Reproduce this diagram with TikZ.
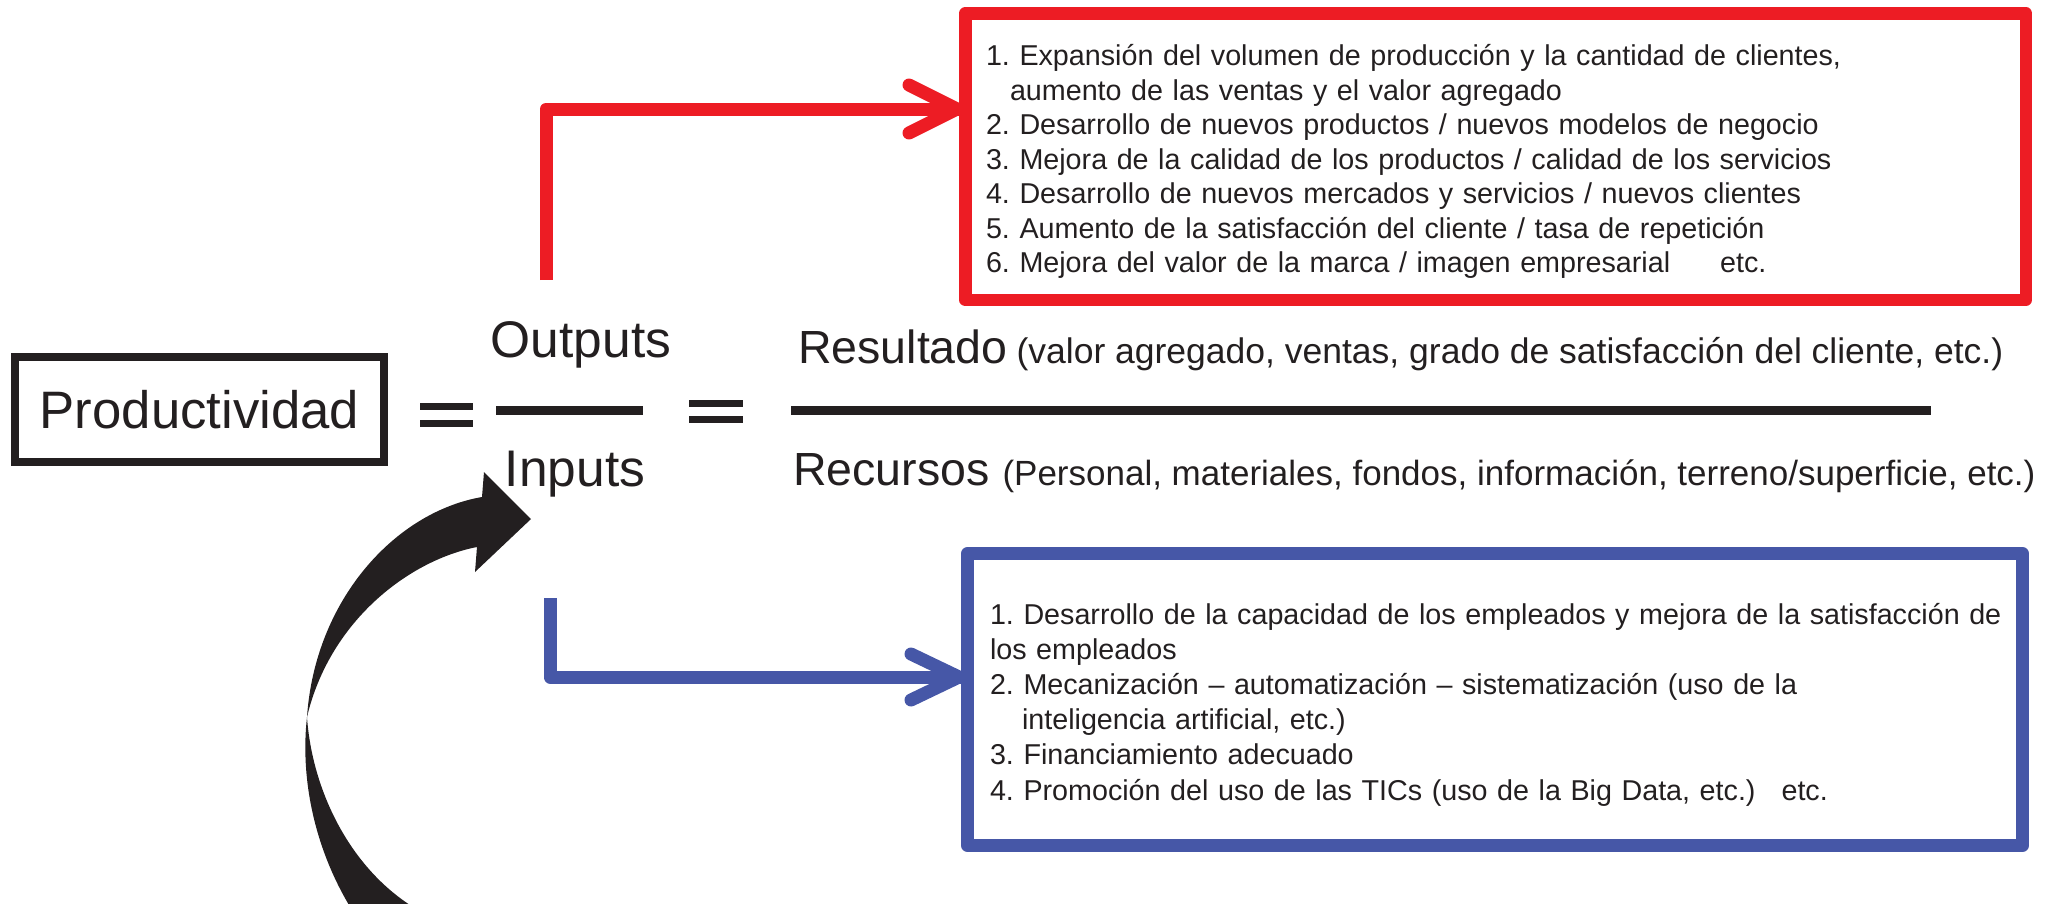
\documentclass[tikz,border=0pt]{standalone}
\usepackage{fontspec}
\setmainfont{Liberation Sans}
\frenchspacing
\definecolor{myred}{HTML}{ED1C24}
\definecolor{myblue}{HTML}{4657A7}
\definecolor{ink}{HTML}{231F20}
\newcommand\fsBig{\fontsize{51.5}{60}\selectfont}
\newcommand\fsProd{\fontsize{52.7}{60}\selectfont}
\newcommand\fsMid{\fontsize{46.5}{55}\selectfont}
\newcommand\fsPar{\fontsize{35.5}{42}\selectfont}
\newcommand\fsParB{\fontsize{35}{42}\selectfont}
\newcommand\fsBoxR{\fontsize{28.7}{34.5}\selectfont}
\newcommand\fsBoxB{\fontsize{28.7}{35.2}\selectfont}
\tikzset{
  rbox/.style={draw=myred, line width=12.5pt, line join=round, align=left, font=\fsBoxR, text=ink},
  bbox/.style={draw=myblue, line width=13pt, line join=round, align=left, font=\fsBoxB, text=ink},
  rline/.style={draw=myred, line width=13pt, line join=round, line cap=round},
  bline/.style={draw=myblue, line width=13pt, line join=round, line cap=round},
  bar/.style={draw=ink, line width=9pt},
  eqbar/.style={fill=ink},
}
\begin{document}
\begin{tikzpicture}[x=1pt,y=-1pt]
\useasboundingbox (0,0) rectangle (2056,903);

% result box (red)
\node[rbox, minimum width=1060.5pt, minimum height=286.5pt, text width=1019pt, inner xsep=20.75pt, inner ysep=0pt] (redbox) at (1495.5,156.5) {%
\rule{0pt}{31pt}1. Expansión del volumen de producción y la cantidad de clientes,\\
\hspace*{24pt}aumento de las ventas y el valor agregado\\
2. Desarrollo de nuevos productos / nuevos modelos de negocio\\
3. Mejora de la calidad de los productos / calidad de los servicios\\
4. Desarrollo de nuevos mercados y servicios / nuevos clientes\\
5. Aumento de la satisfacción del cliente / tasa de repetición\\
6. Mejora del valor de la marca / imagen empresarial\hspace{50pt}etc.};

% resources box (blue)
\node[bbox, minimum width=1055pt, minimum height=292pt, text width=1010pt, inner xsep=22.5pt, inner ysep=0pt] (bluebox) at (1495,699.5) {%
\rule{0pt}{31pt}\mbox{1. Desarrollo de la capacidad de los empleados y mejora de la satisfacción de}\\
los empleados\\
2. Mecanización – automatización – sistematización (uso de la\\
\hspace*{32pt}inteligencia artificial, etc.)\\
3. Financiamiento adecuado\\
4. Promoción del uso de las TICs (uso de la Big Data, etc.)\hspace{26pt}etc.};

% Productividad box
\node[draw=ink, line width=8pt, minimum width=369pt, minimum height=105pt, font=\fsProd, text=ink, inner sep=0pt] (prod) at (199.5,409.5) {Productividad};

% equals signs
\fill[eqbar] (420,402.5) rectangle (473,409.5);
\fill[eqbar] (420,419.5) rectangle (473,426.5);
\fill[eqbar] (689,400) rectangle (743,407);
\fill[eqbar] (689,416) rectangle (743,423);

% fraction bars
\draw[bar] (496,410) -- (643,410);
\draw[bar] (791,410) -- (1931,410);

% fraction texts
\node[font=\fsBig, text=ink, anchor=base, inner sep=0pt] (out) at (581,357) {Outputs};
\node[font=\fsBig, text=ink, anchor=base, inner sep=0pt] (inp) at (575,486) {Inputs};
\node[text=ink, anchor=base west, inner sep=0pt] (res) at (798,363) {\fsMid Resultado\hspace{9pt}\fsPar(valor agregado, ventas, grado de satisfacción del cliente, etc.)};
\node[text=ink, anchor=base west, inner sep=0pt] (rec) at (793,485) {\fsMid Recursos \fsParB(Personal, materiales, fondos, información, terreno/superficie, etc.)};

% red connector
\coordinate (rs) at (546,280);
\coordinate (ry) at (0,109);
\draw[rline, line cap=butt] (rs) |- (redbox.west |- ry);
\draw[rline] (redbox.west |- ry) ++(-50,-24) -- ++(48,24) -- ++(-48,24);

% blue connector
\coordinate (bs) at (550,598);
\coordinate (by) at (0,677);
\draw[bline, line cap=butt] (bs) |- (bluebox.west |- by);
\draw[bline] (bluebox.west |- by) ++(-50,-23) -- ++(48,23) -- ++(-48,23);

% black curved arrow
\fill[ink] (307,717) .. controls (315,600) and (395,512) .. (482,497)
  -- (484,472) -- (531,519) -- (475,572) -- (477,547)
  .. controls (410,560) and (330,620) .. (307,717) -- cycle
  (307,717) .. controls (300,780) and (315,850) .. (352,910)
  -- (418,910) .. controls (350,870) and (312,790) .. (307,717) -- cycle;
\end{tikzpicture}
\end{document}
